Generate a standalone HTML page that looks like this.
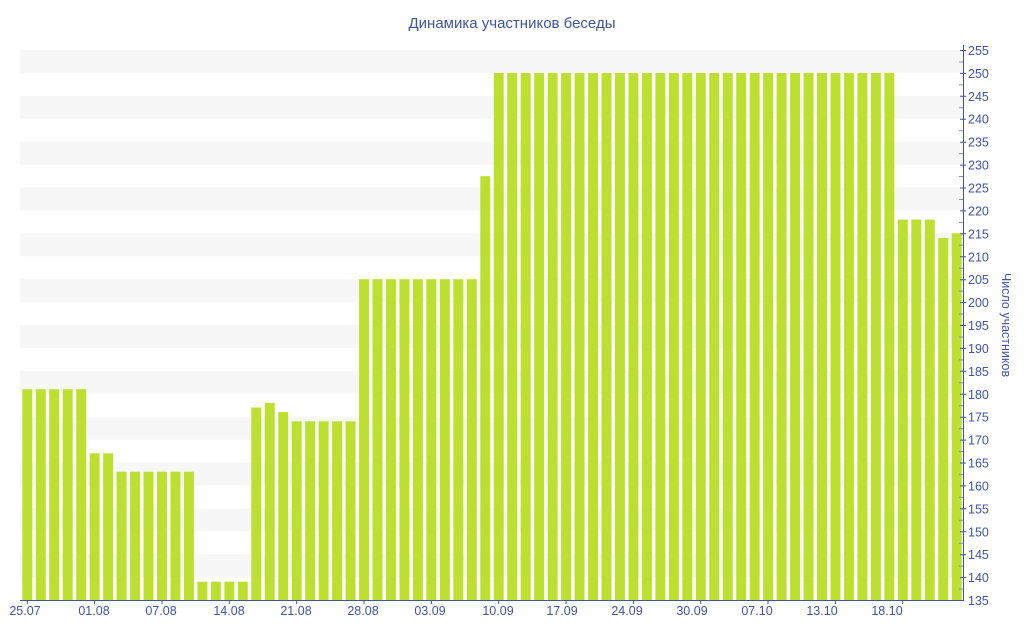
<!DOCTYPE html>
<html><head><meta charset="utf-8"><style>
html,body{margin:0;padding:0;background:#fff;}
svg{display:block;font-family:"Liberation Sans","DejaVu Sans",sans-serif;}
</style></head><body>
<svg width="1024" height="640" viewBox="0 0 1024 640" xmlns="http://www.w3.org/2000/svg">
<text x="512" y="28" text-anchor="middle" font-size="15" fill="#3d55a3">Динамика участников беседы</text>
<g fill="#f7f7f7">
<rect x="20" y="50" width="943" height="22.92"/><rect x="20" y="95.83" width="943" height="22.92"/><rect x="20" y="141.67" width="943" height="22.92"/><rect x="20" y="187.5" width="943" height="22.92"/><rect x="20" y="233.33" width="943" height="22.92"/><rect x="20" y="279.17" width="943" height="22.92"/><rect x="20" y="325" width="943" height="22.92"/><rect x="20" y="370.83" width="943" height="22.92"/><rect x="20" y="416.67" width="943" height="22.92"/><rect x="20" y="462.5" width="943" height="22.92"/><rect x="20" y="508.33" width="943" height="22.92"/><rect x="20" y="554.17" width="943" height="22.92"/>
</g>
<g transform="translate(22.3,0) scale(13.47,1)" fill="#bde030">
<rect x="0" y="389.2" width="0.74" height="210.8"/><rect x="1" y="389.2" width="0.74" height="210.8"/><rect x="2" y="389.2" width="0.74" height="210.8"/><rect x="3" y="389.2" width="0.74" height="210.8"/><rect x="4" y="389.2" width="0.74" height="210.8"/>
<rect x="5" y="453.3" width="0.74" height="146.7"/><rect x="6" y="453.3" width="0.74" height="146.7"/>
<rect x="7" y="471.7" width="0.74" height="128.3"/><rect x="8" y="471.7" width="0.74" height="128.3"/><rect x="9" y="471.7" width="0.74" height="128.3"/><rect x="10" y="471.7" width="0.74" height="128.3"/><rect x="11" y="471.7" width="0.74" height="128.3"/><rect x="12" y="471.7" width="0.74" height="128.3"/>
<rect x="13" y="581.7" width="0.74" height="18.3"/><rect x="14" y="581.7" width="0.74" height="18.3"/><rect x="15" y="581.7" width="0.74" height="18.3"/><rect x="16" y="581.7" width="0.74" height="18.3"/>
<rect x="17" y="407.5" width="0.74" height="192.5"/><rect x="18" y="402.9" width="0.74" height="197.1"/><rect x="19" y="412.1" width="0.74" height="187.9"/>
<rect x="20" y="421.3" width="0.74" height="178.7"/><rect x="21" y="421.3" width="0.74" height="178.7"/><rect x="22" y="421.3" width="0.74" height="178.7"/><rect x="23" y="421.3" width="0.74" height="178.7"/><rect x="24" y="421.3" width="0.74" height="178.7"/>
<rect x="25" y="279.2" width="0.74" height="320.8"/><rect x="26" y="279.2" width="0.74" height="320.8"/><rect x="27" y="279.2" width="0.74" height="320.8"/><rect x="28" y="279.2" width="0.74" height="320.8"/><rect x="29" y="279.2" width="0.74" height="320.8"/><rect x="30" y="279.2" width="0.74" height="320.8"/><rect x="31" y="279.2" width="0.74" height="320.8"/><rect x="32" y="279.2" width="0.74" height="320.8"/><rect x="33" y="279.2" width="0.74" height="320.8"/>
<rect x="34" y="176.1" width="0.74" height="423.9"/>
<rect x="35" y="73" width="0.74" height="527"/><rect x="36" y="73" width="0.74" height="527"/><rect x="37" y="73" width="0.74" height="527"/><rect x="38" y="73" width="0.74" height="527"/><rect x="39" y="73" width="0.74" height="527"/><rect x="40" y="73" width="0.74" height="527"/><rect x="41" y="73" width="0.74" height="527"/><rect x="42" y="73" width="0.74" height="527"/><rect x="43" y="73" width="0.74" height="527"/><rect x="44" y="73" width="0.74" height="527"/>
<rect x="45" y="73" width="0.74" height="527"/><rect x="46" y="73" width="0.74" height="527"/><rect x="47" y="73" width="0.74" height="527"/><rect x="48" y="73" width="0.74" height="527"/><rect x="49" y="73" width="0.74" height="527"/><rect x="50" y="73" width="0.74" height="527"/><rect x="51" y="73" width="0.74" height="527"/><rect x="52" y="73" width="0.74" height="527"/><rect x="53" y="73" width="0.74" height="527"/><rect x="54" y="73" width="0.74" height="527"/>
<rect x="55" y="73" width="0.74" height="527"/><rect x="56" y="73" width="0.74" height="527"/><rect x="57" y="73" width="0.74" height="527"/><rect x="58" y="73" width="0.74" height="527"/><rect x="59" y="73" width="0.74" height="527"/><rect x="60" y="73" width="0.74" height="527"/><rect x="61" y="73" width="0.74" height="527"/><rect x="62" y="73" width="0.74" height="527"/><rect x="63" y="73" width="0.74" height="527"/><rect x="64" y="73" width="0.74" height="527"/>
<rect x="65" y="219.6" width="0.74" height="380.4"/><rect x="66" y="219.6" width="0.74" height="380.4"/><rect x="67" y="219.6" width="0.74" height="380.4"/>
<rect x="68" y="237.9" width="0.74" height="362.1"/><rect x="69" y="233.3" width="0.74" height="366.7"/>
</g>
<g stroke="#3d55a3" stroke-width="1" fill="none">
<line x1="20" y1="600.5" x2="963" y2="600.5"/>
<line x1="963.5" y1="45" x2="963.5" y2="601"/>
<path d="M27.3 600v4M94.6 600v4M162 600v4M229.3 600v4M296.7 600v4M364 600v4M431.4 600v4M498.7 600v4M566 600v4M633.4 600v4M700.7 600v4M768 600v4M835.4 600v4M902.7 600v4"/>
<path d="M960 50.5h6M960 73.4h6M960 96.3h6M960 119.2h6M960 142.2h6M960 165.1h6M960 188h6M960 210.9h6M960 233.8h6M960 256.8h6M960 279.7h6M960 302.6h6M960 325.5h6M960 348.4h6M960 371.3h6M960 394.3h6M960 417.2h6M960 440.1h6M960 463h6M960 485.9h6M960 508.8h6M960 531.8h6M960 554.7h6M960 577.6h6"/>
<path d="M959 62h4M959 84.9h4M959 107.8h4M959 130.7h4M959 153.6h4M959 176.5h4M959 199.5h4M959 222.4h4M959 245.3h4M959 268.2h4M959 291.1h4M959 314h4M959 337h4M959 359.9h4M959 382.8h4M959 405.7h4M959 428.6h4M959 451.5h4M959 474.5h4M959 497.4h4M959 520.3h4M959 543.2h4M959 566.1h4M959 589h4" stroke="#8090c0"/>
</g>
<g font-size="12.5" fill="#3d55a3">
<text x="968" y="55">255</text><text x="968" y="77.9">250</text><text x="968" y="100.8">245</text><text x="968" y="123.7">240</text><text x="968" y="146.7">235</text><text x="968" y="169.6">230</text><text x="968" y="192.5">225</text><text x="968" y="215.4">220</text><text x="968" y="238.3">215</text><text x="968" y="261.3">210</text><text x="968" y="284.2">205</text><text x="968" y="307.1">200</text><text x="968" y="330">195</text><text x="968" y="352.9">190</text><text x="968" y="375.8">185</text><text x="968" y="398.8">180</text><text x="968" y="421.7">175</text><text x="968" y="444.6">170</text><text x="968" y="467.5">165</text><text x="968" y="490.4">160</text><text x="968" y="513.3">155</text><text x="968" y="536.3">150</text><text x="968" y="559.2">145</text><text x="968" y="582.1">140</text><text x="968" y="605">135</text>
</g>
<g font-size="12.5" fill="#3d55a3" text-anchor="middle">
<text x="25" y="615">25.07</text><text x="94" y="615">01.08</text><text x="161" y="615">07.08</text><text x="229" y="615">14.08</text><text x="296" y="615">21.08</text><text x="363" y="615">28.08</text><text x="430" y="615">03.09</text><text x="498" y="615">10.09</text><text x="562" y="615">17.09</text><text x="627" y="615">24.09</text><text x="692" y="615">30.09</text><text x="757" y="615">07.10</text><text x="822" y="615">13.10</text><text x="887" y="615">18.10</text>
</g>
<text transform="translate(1002,325) rotate(90)" text-anchor="middle" font-size="12.5" fill="#3d55a3">Число участников</text>
</svg>
</body></html>
